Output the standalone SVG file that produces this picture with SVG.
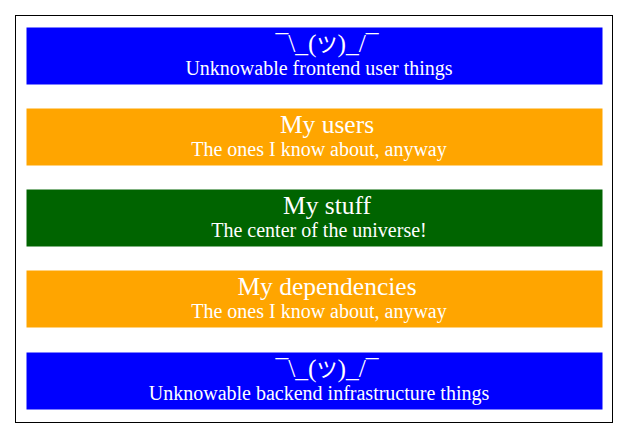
<svg xmlns="http://www.w3.org/2000/svg" width="629" height="437" viewBox="0 0 629 437">
<style>
.box{stroke:#ffffff;stroke-width:1}
.t{font-family:"Liberation Serif","Noto Sans CJK JP",serif;fill:#ffffff;text-anchor:middle}
.h{font-size:25.5px}
.s{font-size:20px}
.k{font-size:21px}
</style>
<rect width="629" height="437" fill="#ffffff"/>
<rect id="frame" x="15.5" y="15.5" width="597" height="407" fill="none" stroke="#000000" stroke-width="1"/>
<g id="frontend">
<rect class="box" x="26" y="27" width="577" height="58" fill="#0000ff"/>
<text class="t h" x="327" y="52">¯\_(<tspan class="k">ツ</tspan>)_/¯</text>
<text class="t s" x="319" y="75">Unknowable frontend user things</text>
</g>
<g id="users">
<rect class="box" x="26" y="108" width="577" height="58" fill="#ffa500"/>
<text class="t h" x="327" y="133">My users</text>
<text class="t s" x="319" y="156">The ones I know about, anyway</text>
</g>
<g id="stuff">
<rect class="box" x="26" y="189" width="577" height="58" fill="#006400"/>
<text class="t h" x="327" y="214">My stuff</text>
<text class="t s" x="319" y="237">The center of the universe!</text>
</g>
<g id="dependencies">
<rect class="box" x="26" y="270" width="577" height="58" fill="#ffa500"/>
<text class="t h" x="327" y="295">My dependencies</text>
<text class="t s" x="319" y="318">The ones I know about, anyway</text>
</g>
<g id="backend">
<rect class="box" x="26" y="352" width="577" height="58" fill="#0000ff"/>
<text class="t h" x="327" y="377">¯\_(<tspan class="k">ツ</tspan>)_/¯</text>
<text class="t s" x="319" y="400">Unknowable backend infrastructure things</text>
</g>
<g id="connectors"></g>
</svg>
